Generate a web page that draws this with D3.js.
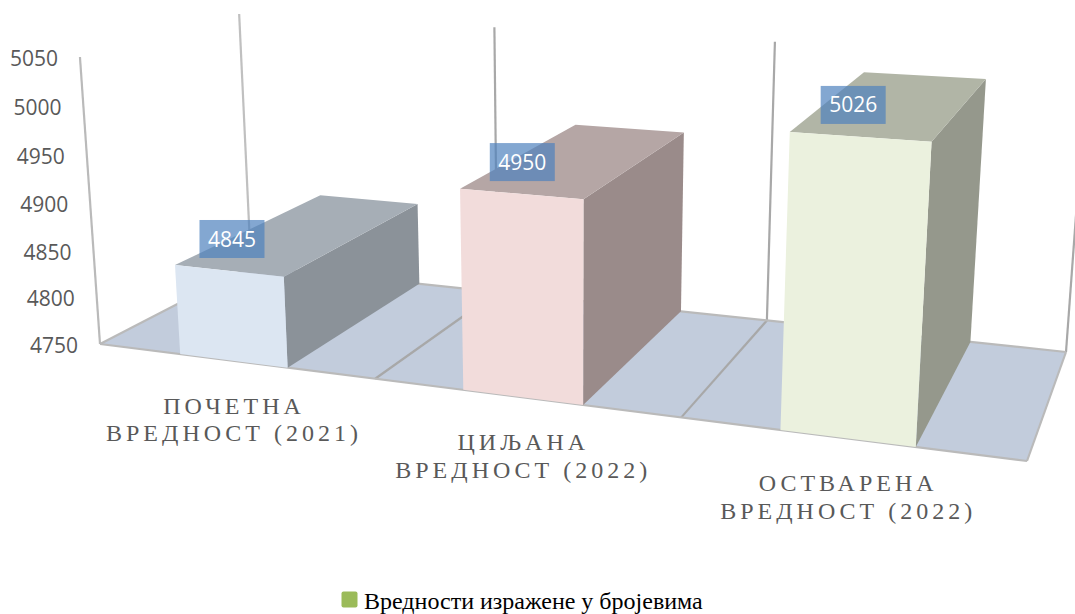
<!DOCTYPE html>
<html>
<head>
<meta charset="utf-8">
<script src="https://cdn.jsdelivr.net/npm/d3@7"></script>
<style>html,body{margin:0;padding:0;background:#fff}svg{display:block}</style>
</head>
<body>
<svg id="chart" width="1075" height="614"></svg>
<script>
// ---- data ----
const categoryFirstLines = ["ПОЧЕТНА", "ЦИЉАНА", "ОСТВАРЕНА"];
const categorySecondLines = ["ВРЕДНОСТ (2021)", "ВРЕДНОСТ (2022)", "ВРЕДНОСТ (2022)"];
const values = [4845, 4950, 5026];
const tickValues = [4750, 4800, 4850, 4900, 4950, 5000, 5050];
const legendLabel = "Вредности изражене у бројевима";

// ---- styles ----
const frontColors = ["#DCE6F2", "#F2DCDB", "#EBF1DE"];
const topColors   = ["#A6AEB6", "#B5A6A5", "#B1B5A6"];
const sideColors  = ["#8B9299", "#9A8B8A", "#95988C"];
const labelNudgeX = [2, 0, -8];

// ---- scales ----
const categoryScale = d3.scalePow().exponent(0.99).domain([0, 3]).range([0, 1]);
const valueScale = d3.scaleLinear().domain([4750, 5050]).range([0, 1]);
// the bars of the 3D plot sit very slightly below the wall's value scale
const barValue = d3.scaleLinear().domain([4750, 5050]).range([4750, 5047.5]);

// ---- perspective projection: floor quad + vertical vanishing point ----
const floorCorners = { fl: [100, 344], fr: [1027, 461], br: [1066, 352], bl: [251, 266] };
const vanish = [572, 7100];
const heightK = -0.04075;

const H = (() => {
  const [x0, y0] = floorCorners.fl, [x1, y1] = floorCorners.fr,
        [x2, y2] = floorCorners.br, [x3, y3] = floorCorners.bl;
  const dx1 = x1 - x2, dx2 = x3 - x2, sx = x0 - x1 + x2 - x3;
  const dy1 = y1 - y2, dy2 = y3 - y2, sy = y0 - y1 + y2 - y3;
  const den = dx1 * dy2 - dx2 * dy1;
  const g = (sx * dy2 - dx2 * sy) / den;
  const h = (dx1 * sy - sx * dy1) / den;
  return { a: x1 - x0 + g * x1, b: x3 - x0 + h * x3, c: x0,
           d: y1 - y0 + g * y1, e: y3 - y0 + h * y3, f: y0, g, h };
})();

// cat: category position (0..3), value: data value, z: depth 0 front .. 1 back
function project(cat, value, z) {
  const u = categoryScale(cat), y = valueScale(value);
  const X = H.a * u + H.b * z + H.c + heightK * y * vanish[0];
  const Y = H.d * u + H.e * z + H.f + heightK * y * vanish[1];
  const W = H.g * u + H.h * z + 1 + heightK * y;
  return [X / W, Y / W];
}

const svg = d3.select("#chart");
const poly = d3.line().curve(d3.curveLinearClosed);
const seg = d3.line();
const base = tickValues[0], topV = tickValues[tickValues.length - 1];
const nCat = values.length;
const GREY = "#BABABA", DIV = "#A8A8A8";

// floor
svg.append("path")
  .attr("d", poly([project(0, base, 0), project(nCat, base, 0), project(nCat, base, 1), project(0, base, 1)]))
  .attr("fill", "#C2CCDC");

// category dividers on the floor + verticals on the back wall
d3.range(1, nCat).forEach(i => {
  svg.append("path").attr("d", seg([project(i, base, 0), project(i, base, 1)]))
    .attr("stroke", DIV).attr("stroke-width", 2.2).attr("fill", "none");
});
d3.range(0, nCat + 1).forEach(i => {
  svg.append("path").attr("d", seg([project(i, base, 1), project(i, topV, 1)]))
    .attr("stroke", i === 0 ? "#C0C0C0" : DIV).attr("stroke-width", 2.2).attr("fill", "none");
});
// floor outline and the front-left vertical
[
  [[0, base, 0], [0, base, 1]],
  [[0, base, 1], [nCat, base, 1]],
  [[nCat, base, 1], [nCat, base, 0]],
  [[0, base, 0], [nCat, base, 0]],
  [[0, base, 0], [0, topV, 0]]
].forEach(([a, b]) => {
  svg.append("path").attr("d", seg([project(...a), project(...b)]))
    .attr("stroke", GREY).attr("stroke-width", 2.2).attr("fill", "none");
});

// bars
const barStart = 0.3, barEnd = 0.692;
values.forEach((val, i) => {
  const v = barValue(val);
  const l = i + barStart, r = i + barEnd;
  const g = svg.append("g");
  g.append("path")
    .attr("d", poly([project(r, base, 0), project(r, base, 1), project(r, v, 1), project(r, v, 0)]))
    .attr("fill", sideColors[i]);
  g.append("path")
    .attr("d", poly([project(l, v, 0), project(r, v, 0), project(r, v, 1), project(l, v, 1)]))
    .attr("fill", topColors[i]);
  g.append("path")
    .attr("d", poly([project(l, base, 0), project(r, base, 0), project(r, v, 0), project(l, v, 0)]))
    .attr("fill", frontColors[i]);
});

// value axis labels
const AXIS_FONT = "'Open Sans', sans-serif";
svg.append("g").selectAll("text").data(tickValues).join("text")
  .attr("x", d => project(0, d, 0)[0] - 22)
  .attr("y", d => project(0, d, 0)[1] + 1)
  .attr("dy", "0.36em")
  .attr("text-anchor", "end")
  .attr("font-family", AXIS_FONT).attr("font-size", 21).attr("fill", "#595959")
  .text(d => d);

// data labels
const labels = svg.append("g").selectAll("g").data(values).join("g")
  .attr("transform", (d, i) => {
    const p = project(i + 0.5, barValue(d), 0);
    return `translate(${p[0] + labelNudgeX[i]},${p[1] - 32})`;
  });
labels.append("rect").attr("x", -32.5).attr("y", -19).attr("width", 65).attr("height", 38)
  .attr("fill", "#4F81BD").attr("fill-opacity", 0.7);
labels.append("text").attr("text-anchor", "middle").attr("dy", "0.36em")
  .attr("font-family", AXIS_FONT).attr("font-size", 21).attr("fill", "#fff")
  .text(d => d);

// category labels
const SERIF = "'Liberation Serif', serif";
const catG = svg.append("g").selectAll("g").data(categoryFirstLines).join("g")
  .attr("transform", (d, i) => {
    const p = project(i + 0.5, base, 0);
    return `translate(${p[0] - 2.5},${p[1] + 53})`;
  });
catG.append("text").attr("text-anchor", "middle").attr("x", 2)
  .attr("font-family", SERIF).attr("font-size", 24).attr("letter-spacing", 4).attr("fill", "#595959")
  .text(d => d);
catG.append("text").attr("text-anchor", "middle").attr("x", 2).attr("y", 27.5)
  .attr("font-family", SERIF).attr("font-size", 24).attr("letter-spacing", 4).attr("fill", "#595959")
  .text((d, i) => categorySecondLines[i]);

// legend
svg.append("rect").attr("x", 341.5).attr("y", 591.5).attr("width", 16).attr("height", 16).attr("rx", 2)
  .attr("fill", "#9BBB59");
svg.append("text").attr("x", 364).attr("y", 609)
  .attr("font-family", SERIF).attr("font-size", 24).attr("fill", "#000")
  .text(legendLabel);
</script>
</body>
</html>
